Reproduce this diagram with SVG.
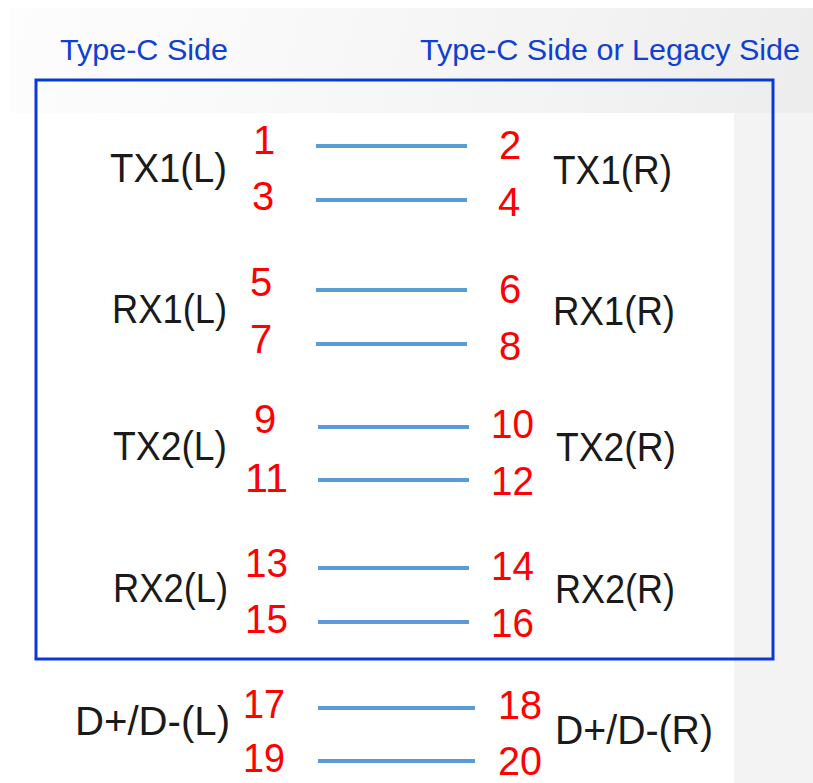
<svg xmlns="http://www.w3.org/2000/svg" width="813" height="783" viewBox="0 0 813 783">
<defs>
<linearGradient id="bg" x1="0" y1="0" x2="1" y2="0.3">
<stop offset="0" stop-color="#fdfdfd"/>
<stop offset="0.5" stop-color="#f6f6f6"/>
<stop offset="1" stop-color="#ececec"/>
</linearGradient>
<style>
.lbl{font-family:"Liberation Sans",Arial,sans-serif;font-size:40px;fill:#1a1a1a}
.num{font-family:"Liberation Sans",Arial,sans-serif;font-size:40px;fill:#ff0000}
.ttl{font-family:"Liberation Sans",Arial,sans-serif;font-size:29px;fill:#1040d2}
.wire{stroke:#5b9bd5;stroke-width:4;fill:none}
</style>
</defs>
<rect x="0" y="0" width="813" height="783" fill="#ffffff"/>
<rect x="10" y="8" width="803" height="775" fill="url(#bg)"/>
<rect x="0" y="113" width="734" height="670" fill="#ffffff"/>
<rect x="734" y="113" width="79" height="670" fill="#f3f3f3"/>

<g id="titles">
<text class="ttl" x="60" y="60" textLength="168" lengthAdjust="spacingAndGlyphs">Type-C Side</text>
<text class="ttl" x="420" y="60" textLength="380" lengthAdjust="spacingAndGlyphs">Type-C Side or Legacy Side</text>
</g>

<g id="box">
<rect x="36" y="80" width="737" height="579" fill="none" stroke="#0a3ad6" stroke-width="3"/>
</g>

<g id="connectors">
<line class="wire" x1="316" y1="146" x2="467" y2="146"/>
<line class="wire" x1="316" y1="200" x2="467" y2="200"/>
<line class="wire" x1="316" y1="290" x2="467" y2="290"/>
<line class="wire" x1="316" y1="344" x2="467" y2="344"/>
<line class="wire" x1="318" y1="427" x2="469" y2="427"/>
<line class="wire" x1="318" y1="480" x2="469" y2="480"/>
<line class="wire" x1="318" y1="568" x2="469" y2="568"/>
<line class="wire" x1="318" y1="622" x2="469" y2="622"/>
<line class="wire" x1="318" y1="708" x2="475" y2="708"/>
<line class="wire" x1="318" y1="761" x2="475" y2="761"/>
</g>

<g id="tx1-left">
<text class="lbl" x="110" y="182" textLength="117" lengthAdjust="spacingAndGlyphs">TX1(L)</text>
<text class="num" x="253" y="154">1</text>
<text class="num" x="252" y="210">3</text>
</g>
<g id="tx1-right">
<text class="num" x="499" y="159">2</text>
<text class="num" x="498" y="216">4</text>
<text class="lbl" x="553" y="184" textLength="119" lengthAdjust="spacingAndGlyphs">TX1(R)</text>
</g>

<g id="rx1-left">
<text class="lbl" x="112" y="323" textLength="115" lengthAdjust="spacingAndGlyphs">RX1(L)</text>
<text class="num" x="250" y="296">5</text>
<text class="num" x="250" y="353">7</text>
</g>
<g id="rx1-right">
<text class="num" x="499" y="303">6</text>
<text class="num" x="499" y="360">8</text>
<text class="lbl" x="553" y="325" textLength="122" lengthAdjust="spacingAndGlyphs">RX1(R)</text>
</g>

<g id="tx2-left">
<text class="lbl" x="113" y="460" textLength="114" lengthAdjust="spacingAndGlyphs">TX2(L)</text>
<text class="num" x="254" y="433">9</text>
<text class="num" x="245" y="492" textLength="43" lengthAdjust="spacingAndGlyphs">11</text>
</g>
<g id="tx2-right">
<text class="num" x="491" y="438" textLength="43" lengthAdjust="spacingAndGlyphs">10</text>
<text class="num" x="491" y="495" textLength="43" lengthAdjust="spacingAndGlyphs">12</text>
<text class="lbl" x="556" y="461" textLength="120" lengthAdjust="spacingAndGlyphs">TX2(R)</text>
</g>

<g id="rx2-left">
<text class="lbl" x="113" y="602" textLength="115" lengthAdjust="spacingAndGlyphs">RX2(L)</text>
<text class="num" x="245" y="577" textLength="43" lengthAdjust="spacingAndGlyphs">13</text>
<text class="num" x="245" y="633" textLength="43" lengthAdjust="spacingAndGlyphs">15</text>
</g>
<g id="rx2-right">
<text class="num" x="491" y="580" textLength="43" lengthAdjust="spacingAndGlyphs">14</text>
<text class="num" x="491" y="637" textLength="43" lengthAdjust="spacingAndGlyphs">16</text>
<text class="lbl" x="555" y="603" textLength="120" lengthAdjust="spacingAndGlyphs">RX2(R)</text>
</g>

<g id="dpdm-left">
<text class="lbl" x="75" y="735" textLength="155" lengthAdjust="spacingAndGlyphs">D+/D-(L)</text>
<text class="num" x="243" y="718" textLength="42" lengthAdjust="spacingAndGlyphs">17</text>
<text class="num" x="243" y="772" textLength="42" lengthAdjust="spacingAndGlyphs">19</text>
</g>
<g id="dpdm-right">
<text class="num" x="498" y="719" textLength="44" lengthAdjust="spacingAndGlyphs">18</text>
<text class="num" x="498" y="775" textLength="44" lengthAdjust="spacingAndGlyphs">20</text>
<text class="lbl" x="555" y="744" textLength="158" lengthAdjust="spacingAndGlyphs">D+/D-(R)</text>
</g>
</svg>
